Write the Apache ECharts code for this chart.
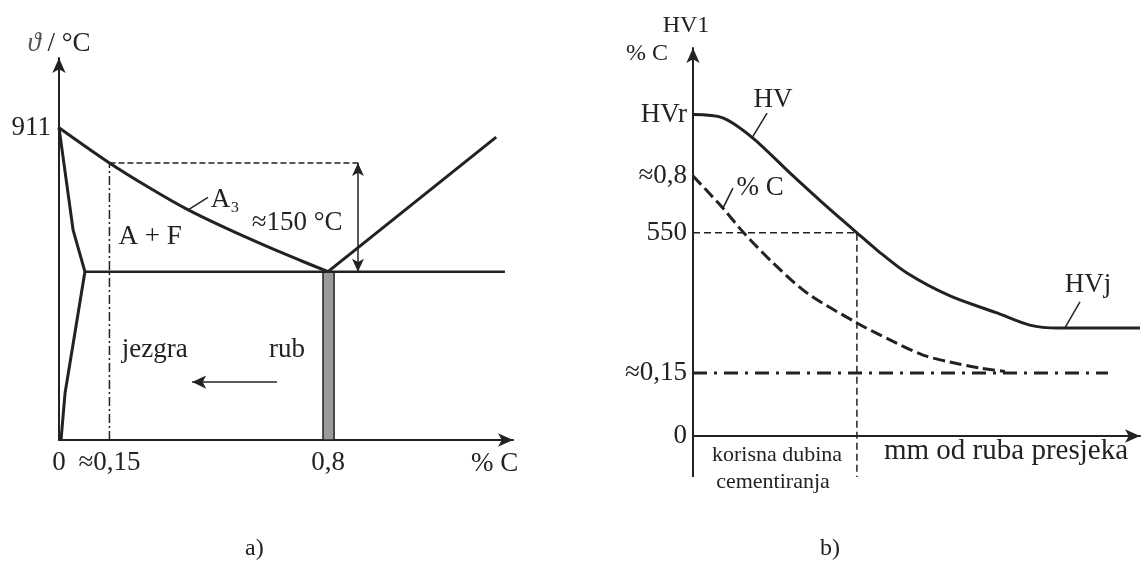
<!DOCTYPE html>
<html>
<head>
<meta charset="utf-8">
<title>Cementiranje</title>
<script src="https://cdn.jsdelivr.net/npm/echarts@6.0.0/dist/echarts.min.js"></script>
<style>
  html, body { margin: 0; padding: 0; background: #fff; }
  #chart { width: 1143px; height: 563px; }
</style>
</head>
<body>
<div id="chart"></div>
<script>
// ---- a) dio dijagrama Fe-C (x: % C, y: temperatura u °C)
var a3Line = [[0, 911], [0.15, 866], [0.27, 834], [0.38, 807], [0.5, 782], [0.62, 759], [0.72, 741], [0.8, 727]];
var acmLine = [[0.8, 727], [1.3, 899]];
var eutectoidLine = [[0.077, 727], [1.326, 727]];
var ferriteLine = [[0, 911], [0.042, 780], [0.077, 727], [0.039, 627], [0.018, 572], [0.006, 512]];
var coreLine = [[0.15, 512], [0.15, 866]];
var guideLine = [[0.15, 866], [0.895, 866]];
var a3Leader = [[0.384, 806], [0.443, 822]];
var cTickValues = [0, 0.15, 0.8];
var cTickLabels = ['0', '≈0,15', '0,8'];
var tTickValues = [911];
var tTickLabels = ['911'];
var labelsA = [
  ['A₃', 0.494, 819],
  ['A + F', 0.271, 771],
  ['≈150 °C', 0.708, 789],
  ['jezgra', 0.285, 627],
  ['rub', 0.678, 627]
];

// ---- b) tvrdoca i % C po dubini (x: mm od ruba)
var hvDepth = [0, 0.2, 0.4, 0.65, 0.87, 1.1, 1.235, 1.436, 1.725, 2.04, 2.26, 2.45, 3.0];
var hvValues = [870, 861, 807, 712, 631, 550, 503, 441, 379, 333, 300, 292, 292];
var cDepth = [0, 0.2, 0.336, 0.537, 0.765, 1.1, 1.322, 1.544, 1.725, 1.926, 2.094];
var cValues = [0.8, 0.694, 0.615, 0.513, 0.414, 0.315, 0.259, 0.209, 0.186, 0.166, 0.155];
var coreCarbon = [[0, 0.15], [2.785, 0.15]];
var depthGuide = [[0, 550], [1.1, 550], [1.1, -111]];
var axisTail = [[0, 0], [0, -111]];
var hvLeader = [[0.396, 807], [0.497, 874]];
var hvjLeader = [[2.497, 293], [2.597, 363]];
var cLeader = [[0.201, 0.694], [0.268, 0.76]];
var hvTickValues = [0, 550, 870];
var hvTickLabels = ['0', '550', 'HVr'];
var pcTickValues = [0.8, 0.15];
var pcTickLabels = ['≈0,8', '≈0,15'];
var labelsB = [
  ['HV', 0.537, 909],
  ['HVj', 2.651, 409],
  ['korisna dubina', 0.564, -51],
  ['cementiranja', 0.537, -124]
];
var labelsBC = [['% C', 0.45, 0.76]];

var INK = '#222';
var FONT = 'Liberation Serif';

function pick(values, labels) {
  return function (v) {
    for (var i = 0; i < values.length; i++) {
      if (Math.abs(values[i] - v) < 1e-6) return labels[i];
    }
    return '';
  };
}

function zip(xs, ys) {
  return xs.map(function (x, i) { return [x, ys[i]]; });
}

function line(data, xi, yi, extra) {
  var s = {
    type: 'line',
    xAxisIndex: xi,
    yAxisIndex: yi,
    data: data,
    showSymbol: false,
    symbol: 'none',
    silent: true,
    clip: false,
    lineStyle: { color: INK, width: 2 }
  };
  for (var k in extra) s[k] = extra[k];
  return s;
}

function textSeries(items, xi, yi, size) {
  return {
    type: 'scatter',
    xAxisIndex: xi,
    yAxisIndex: yi,
    clip: false,
    silent: true,
    symbolSize: 1,
    itemStyle: { color: '#fff', opacity: 0 },
    data: items.map(function (d) { return { name: d[0], value: [d[1], d[2]] }; }),
    label: {
      show: true,
      position: 'inside',
      formatter: '{b}',
      color: INK,
      opacity: 1,
      textBorderWidth: 0,
      fontFamily: FONT,
      fontSize: size
    }
  };
}

var arrowAxis = {
  show: true,
  symbol: ['none', 'arrow'],
  symbolSize: [10, 15],
  lineStyle: { color: INK, width: 2 }
};

var myChart = echarts.init(document.getElementById('chart'));

var option = {
  animation: false,
  backgroundColor: '#fff',
  textStyle: { fontFamily: FONT, color: INK },
  title: [
    { text: 'a)', left: 240, top: 532, textStyle: { fontFamily: FONT, fontSize: 24, fontWeight: 'normal', color: INK } },
    { text: 'b)', left: 815, top: 532, textStyle: { fontFamily: FONT, fontSize: 24, fontWeight: 'normal', color: INK } }
  ],
  grid: [
    { left: 59, top: 58, width: 454, height: 382 },
    { left: 693, top: 48, width: 447, height: 388 }
  ],
  xAxis: [
    {
      gridIndex: 0, type: 'value', min: 0, max: 1.35,
      axisLine: arrowAxis, axisTick: { show: false }, splitLine: { show: false },
      axisLabel: {
        customValues: cTickValues, formatter: pick(cTickValues, cTickLabels),
        margin: 9, fontFamily: FONT, fontSize: 27, color: INK
      },
      name: '% C', nameLocation: 'end', nameGap: -42,
      nameTextStyle: { fontFamily: FONT, fontSize: 27, color: INK, align: 'left', verticalAlign: 'top', padding: [10, 0, 0, 0] }
    },
    {
      gridIndex: 1, type: 'value', min: 0, max: 3,
      axisLine: { show: true, onZero: false, symbol: ['none', 'arrow'], symbolSize: [10, 15], lineStyle: { color: INK, width: 2 } },
      axisTick: { show: false }, splitLine: { show: false }, axisLabel: { show: false },
      name: 'mm od ruba presjeka', nameLocation: 'end', nameGap: -12,
      nameTextStyle: { fontFamily: FONT, fontSize: 29, color: INK, align: 'right', verticalAlign: 'top', padding: [1, 0, 0, 0] }
    }
  ],
  yAxis: [
    {
      gridIndex: 0, type: 'value', min: 512, max: 1000,
      axisLine: arrowAxis, axisTick: { show: false }, splitLine: { show: false },
      axisLabel: {
        customValues: tTickValues, formatter: pick(tTickValues, tTickLabels),
        margin: 8, fontFamily: FONT, fontSize: 27, color: INK
      },
      name: '{i|ϑ} / °C', nameLocation: 'end', nameGap: 1,
      nameTextStyle: {
        fontFamily: FONT, fontSize: 27, color: INK, align: 'center', verticalAlign: 'bottom',
        rich: { i: { fontFamily: FONT, fontSize: 27, fontStyle: 'italic', color: '#555' } }
      }
    },
    {
      gridIndex: 1, type: 'value', min: 0, max: 1050,
      axisLine: arrowAxis, axisTick: { show: false }, splitLine: { show: false },
      axisLabel: {
        customValues: hvTickValues, formatter: pick(hvTickValues, hvTickLabels),
        margin: 6, fontFamily: FONT, fontSize: 27, color: INK
      },
      name: 'HV1', nameLocation: 'end', nameGap: 10,
      nameTextStyle: { fontFamily: FONT, fontSize: 24, color: INK, align: 'center', verticalAlign: 'bottom', padding: [0, 14, 0, 0] }
    },
    {
      gridIndex: 1, type: 'value', min: -0.058, max: 1.222, position: 'left',
      axisLine: { show: false }, axisTick: { show: false }, splitLine: { show: false },
      axisLabel: {
        customValues: pcTickValues, formatter: pick(pcTickValues, pcTickLabels),
        margin: 6, fontFamily: FONT, fontSize: 27, color: INK
      },
      name: '% C', nameLocation: 'end', nameGap: -6,
      nameTextStyle: { fontFamily: FONT, fontSize: 24, color: INK, align: 'right', verticalAlign: 'middle', padding: [0, 25, 0, 0] }
    }
  ],
  series: [
    // a)
    line(a3Line, 0, 0, { smooth: 0.3, lineStyle: { color: INK, width: 3 } }),
    line(acmLine, 0, 0, { lineStyle: { color: INK, width: 3 } }),
    line(eutectoidLine, 0, 0, {
      lineStyle: { color: INK, width: 2.5 },
      markArea: {
        silent: true,
        itemStyle: { color: '#9a9a9a', borderColor: INK, borderWidth: 1.5 },
        data: [[{ coord: [0.785, 512] }, { coord: [0.818, 727] }]]
      }
    }),
    line(ferriteLine, 0, 0, { lineStyle: { color: INK, width: 3 } }),
    line(coreLine, 0, 0, { lineStyle: { color: INK, width: 1.5, type: [9, 3, 2, 3] } }),
    line(guideLine, 0, 0, {
      lineStyle: { color: INK, width: 1.5, type: [6, 3] },
      markLine: {
        silent: true, symbol: ['arrow', 'arrow'], symbolSize: [9, 13],
        label: { show: false },
        lineStyle: { color: INK, width: 1.5, type: 'solid' },
        data: [[{ coord: [0.889, 866] }, { coord: [0.889, 727] }]]
      }
    }),
    line(a3Leader, 0, 0, {
      lineStyle: { color: INK, width: 1.5 },
      markLine: {
        silent: true, symbol: ['none', 'arrow'], symbolSize: [10, 14],
        label: { show: false },
        lineStyle: { color: INK, width: 1.5, type: 'solid' },
        data: [[{ coord: [0.648, 586] }, { coord: [0.396, 586] }]]
      }
    }),
    textSeries(labelsA, 0, 0, 27),

    // b)
    line(zip(hvDepth, hvValues), 1, 1, { smooth: 0.3, lineStyle: { color: INK, width: 3 } }),
    line(zip(cDepth, cValues), 1, 2, { smooth: 0.3, lineStyle: { color: INK, width: 3, type: [12, 5] } }),
    line(coreCarbon, 1, 2, { lineStyle: { color: INK, width: 3, type: [14, 7, 3, 7] } }),
    line(depthGuide, 1, 1, {
      lineStyle: { color: INK, width: 1.5, type: [7, 4] },
      markLine: {
        silent: true, symbol: ['arrow', 'arrow'], symbolSize: [9, 13],
        label: { show: false },
        lineStyle: { color: INK, width: 1.5, type: 'solid' },
        data: [[{ coord: [0, -86] }, { coord: [1.1, -86] }]]
      }
    }),
    line(axisTail, 1, 1, { lineStyle: { color: INK, width: 2 } }),
    line(hvLeader, 1, 1, { lineStyle: { color: INK, width: 1.5 } }),
    line(hvjLeader, 1, 1, { lineStyle: { color: INK, width: 1.5 } }),
    line(cLeader, 1, 2, { lineStyle: { color: INK, width: 1.5 } }),
    textSeries(labelsB.slice(0, 2), 1, 1, 27),
    textSeries(labelsB.slice(2), 1, 1, 22),
    textSeries(labelsBC, 1, 2, 27)
  ]
};

myChart.setOption(option);
window.addEventListener('resize', function () {
  myChart.resize();
});
</script>
</body>
</html>
